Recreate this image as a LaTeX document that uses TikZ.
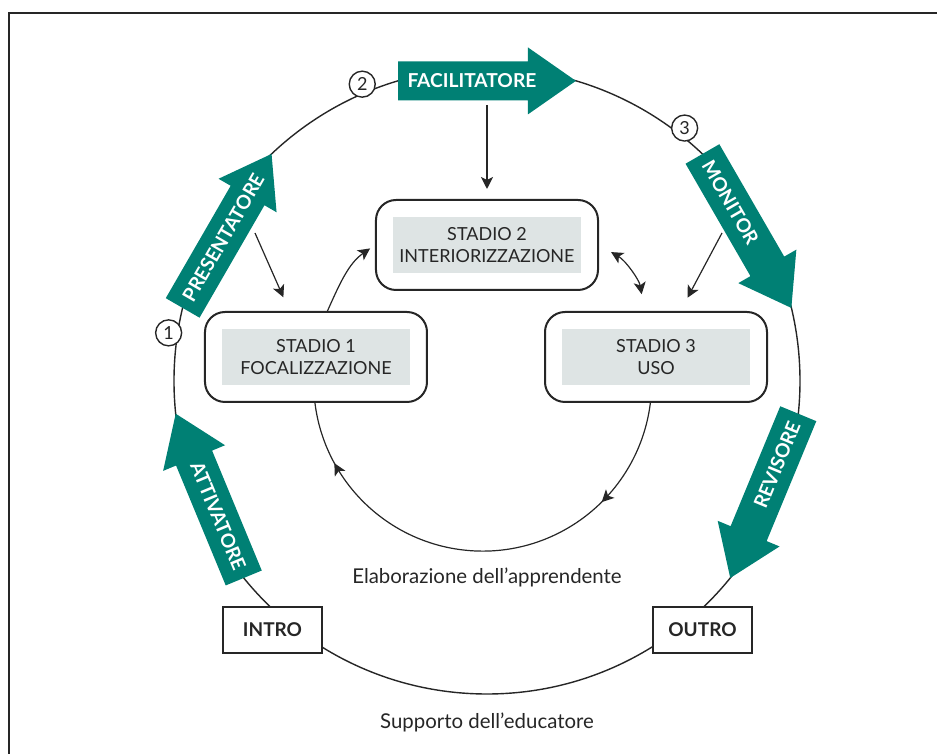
\documentclass[tikz,border=0pt]{standalone}
\usepackage{fontspec}
\setmainfont{Lato}
\usetikzlibrary{arrows.meta, calc, decorations.markings}
\definecolor{roleteal}{RGB}{0, 128, 116}
\definecolor{stagegray}{RGB}{222, 228, 228}
\definecolor{inkgray}{RGB}{38, 38, 38}

\tikzset{
  stagebox/.style={draw=inkgray, line width=1pt, rounded corners=10pt, fill=white, minimum width=111pt, minimum height=45pt},
  stagetext/.style={fill=stagegray, minimum width=94pt, minimum height=28pt, inner sep=0pt, align=center, text=inkgray, font=\fontsize{9}{11}\selectfont},
  endbox/.style={draw=inkgray, line width=0.8pt, fill=white, minimum width=49.5pt, minimum height=23pt, text=inkgray, font=\bfseries\fontsize{9.5}{11}\selectfont},
  stepnum/.style={circle, draw=inkgray, line width=0.7pt, fill=white, minimum size=13pt, inner sep=0pt, text=inkgray, font=\fontsize{9}{11}\selectfont},
  rolelabel/.style={text=white, inner sep=0pt, font=\bfseries\fontsize{9.6}{11}\selectfont},
  flow/.style={draw=inkgray, line width=0.6pt, -{Stealth[length=6pt, width=6pt, inset=1.5pt]}},
  caption/.style={text=inkgray, font=\fontsize{10.2}{12}\selectfont},
}

% big teal arrow as a chord of the outer circle: name, mid angle, label options, label
\newcommand{\rolearrow}[4]{%
  \begin{scope}[shift={(#2+16.5:313)}, rotate=#2-90]
    \fill[roleteal] (0,-19.5) -- (129.8,-19.5) -- (129.8,-33.5) -- (177.8,0)
      -- (129.8,33.5) -- (129.8,19.5) -- (0,19.5) -- cycle;
    \node[rolelabel, transform shape, #3] (#1) at (9,0) {#4};
  \end{scope}}

\begin{document}
\begin{tikzpicture}[x=0.5pt, y=0.5pt]
  \useasboundingbox (-487,-373) rectangle (460,381);

  % frame
  \draw[inkgray, line width=1pt] (-478,-373) -- (-478,368) -- (450,368);

  % outer cycle (educator)
  \draw[inkgray, line width=0.7pt] (0,0) circle[radius=313];

  % role arrows
  \rolearrow{facil}{90}{anchor=west}{FACILITATORE}
  \rolearrow{pres}{150}{anchor=west}{PRESENTATORE}
  \rolearrow{moni}{30}{anchor=west}{MONITOR}
  \rolearrow{attiv}{202.5}{rotate=180, anchor=east}{ATTIVATORE}
  \rolearrow{revis}{-22.5}{rotate=180, anchor=east}{REVISORE}

  % numbered steps
  \node[stepnum] (n1) at (171.4:322) {1};
  \node[stepnum] (n2) at (112.8:322) {2};
  \node[stepnum] (n3) at (52:321) {3};

  \node[endbox] (intro) at (-214.5,-249) {INTRO};
  \node[endbox] (outro) at (215.5,-249) {OUTRO};

  % stages
  \node[stagebox] (s1) at (-171,24) {};
  \node[stagetext] (s1t) at (s1) {STADIO 1\\FOCALIZZAZIONE};
  \node[stagebox] (s2) at (0,136) {};
  \node[stagetext] (s2t) at (s2) {STADIO 2\\INTERIORIZZAZIONE};
  \node[stagebox] (s3) at (169,24) {};
  \node[stagetext] (s3t) at (s3) {STADIO 3\\USO};

  % learner loop
  \draw[inkgray, line width=0.6pt, decoration={markings,
      mark=at position 0.23 with {\arrow{Stealth[length=6pt, width=6pt, inset=1.5pt]}},
      mark=at position 0.87 with {\arrow{Stealth[length=6pt, width=6pt, inset=1.5pt]}}},
    postaction=decorate] (s3.263) arc[start angle=-7.1, end angle=-172.9, radius=169];
  \draw[flow, shorten >=3pt] (s1.76) to[out=66, in=215] (s2.west);
  \draw[flow, {Stealth[length=6pt, width=6pt, inset=1.5pt]}-{Stealth[length=6pt, width=6pt, inset=1.5pt]},
    shorten <=7pt, shorten >=8.5pt] (s2.east) to[bend left=25] (s3.104);

  % educator inputs
  \coordinate (facdown) at (0,276);
  \coordinate (presdown) at (-232,148);
  \coordinate (mondown) at (235,148);
  \draw[flow, shorten >=5pt] (facdown) -- (s2.north);
  \draw[flow, shorten >=7.5pt] (presdown) -- (s1.120);
  \draw[flow, shorten >=7.5pt] (mondown) -- (s3.62);

  \node[caption] (learner) at (0,-196) {Elaborazione dell’apprendente};
  \node[caption] (educator) at (0,-341) {Supporto dell’educatore};
\end{tikzpicture}
\end{document}
